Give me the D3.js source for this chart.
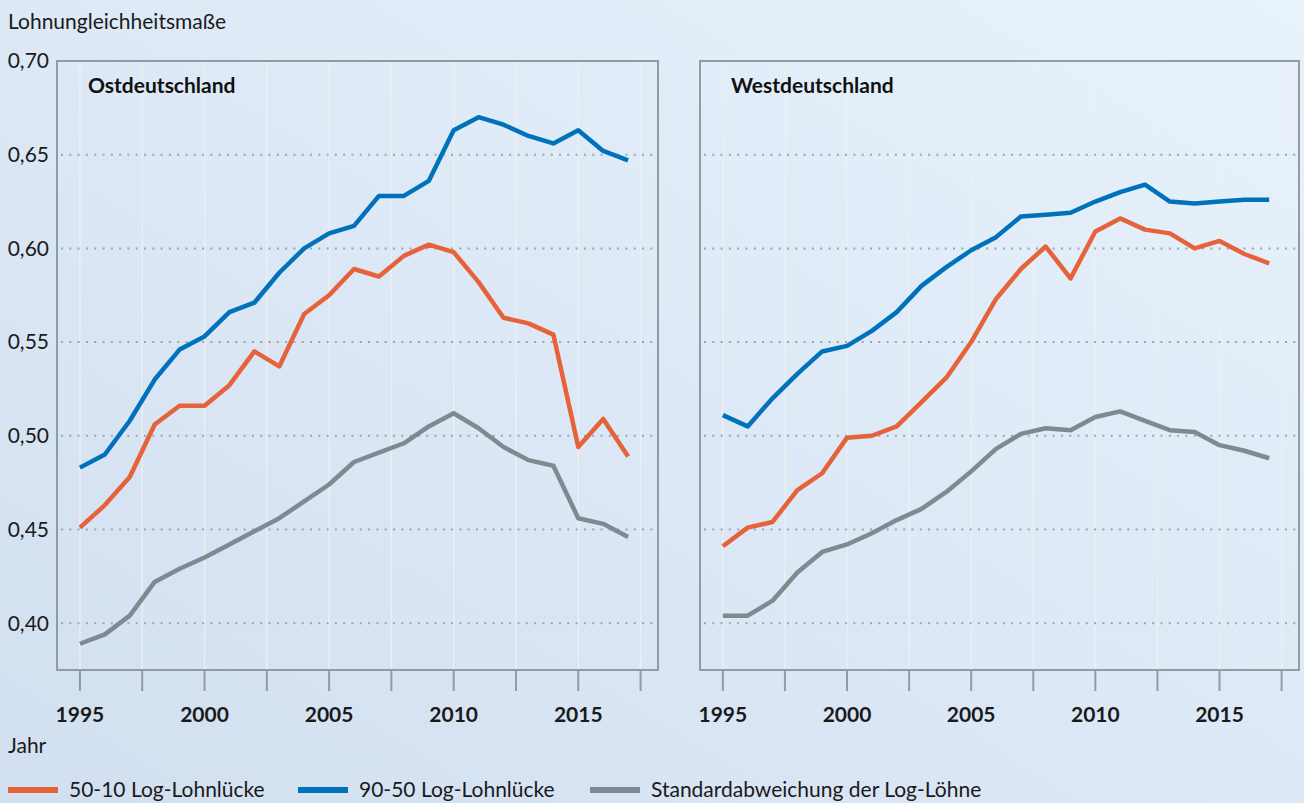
<!DOCTYPE html>
<html>
<head>
<meta charset="utf-8">
<script src="https://cdn.jsdelivr.net/npm/d3@7"></script>
<style>
  html, body { margin: 0; padding: 0; }
  body { width: 1304px; height: 803px; overflow: hidden; }
  svg { display: block; font-family: Lato, "Open Sans", sans-serif; }
</style>
</head>
<body>
<div id="chart"></div>
<script>
// --- Data ---
const years = d3.range(1995, 2018);

const ostGap5010 = [0.451, 0.463, 0.478, 0.506, 0.516, 0.516, 0.527, 0.545, 0.537, 0.565, 0.575, 0.589, 0.585, 0.596, 0.602, 0.598, 0.582, 0.563, 0.560, 0.554, 0.494, 0.509, 0.489];
const ostGap9050 = [0.483, 0.490, 0.508, 0.530, 0.546, 0.553, 0.566, 0.571, 0.587, 0.600, 0.608, 0.612, 0.628, 0.628, 0.636, 0.663, 0.670, 0.666, 0.660, 0.656, 0.663, 0.652, 0.647];
const ostStdDev  = [0.389, 0.394, 0.404, 0.422, 0.429, 0.435, 0.442, 0.449, 0.456, 0.465, 0.474, 0.486, 0.491, 0.496, 0.505, 0.512, 0.504, 0.494, 0.487, 0.484, 0.456, 0.453, 0.446];

const westGap5010 = [0.441, 0.451, 0.454, 0.471, 0.480, 0.499, 0.500, 0.505, 0.518, 0.531, 0.550, 0.573, 0.589, 0.601, 0.584, 0.609, 0.616, 0.610, 0.608, 0.600, 0.604, 0.597, 0.592];
const westGap9050 = [0.511, 0.505, 0.520, 0.533, 0.545, 0.548, 0.556, 0.566, 0.580, 0.590, 0.599, 0.606, 0.617, 0.618, 0.619, 0.625, 0.630, 0.634, 0.625, 0.624, 0.625, 0.626, 0.626];
const westStdDev  = [0.404, 0.404, 0.412, 0.427, 0.438, 0.442, 0.448, 0.455, 0.461, 0.470, 0.481, 0.493, 0.501, 0.504, 0.503, 0.510, 0.513, 0.508, 0.503, 0.502, 0.495, 0.492, 0.488];

const yTicks = [0.40, 0.45, 0.50, 0.55, 0.60, 0.65, 0.70];
const xLabelYears = [1995, 2000, 2005, 2010, 2015];
const xGridYears = d3.range(1995, 2018.5, 2.5);

const seriesNames = ['50-10 Log-Lohnlücke', '90-50 Log-Lohnlücke', 'Standardabweichung der Log-Löhne'];
const seriesColors = ['#e5623b', '#0072bb', '#7d8a90'];

const panels = [
    { title: 'Ostdeutschland', left: 57, right: 658, series: [ostGap5010, ostGap9050, ostStdDev] },
    { title: 'Westdeutschland', left: 700, right: 1299, series: [westGap5010, westGap9050, westStdDev] },
];

// --- Layout ---
const width = 1304;
const height = 803;
const plotTop = 61;
const plotBottom = 670;
const axisColor = '#8f9ca4';
const textColor = '#1a1a1a';
const fontSize = 21;

const svg = d3.select('#chart').append('svg')
    .attr('width', width)
    .attr('height', height)
    .attr('viewBox', [0, 0, width, height]);

// Background gradient
const defs = svg.append('defs');
const grad = defs.append('linearGradient')
    .attr('id', 'bg')
    .attr('x1', '0%').attr('y1', '100%')
    .attr('x2', '100%').attr('y2', '0%');
grad.append('stop').attr('offset', '0%').attr('stop-color', '#d2dff0');
grad.append('stop').attr('offset', '100%').attr('stop-color', '#e7f2fb');

svg.append('rect')
    .attr('width', width)
    .attr('height', height)
    .attr('fill', 'url(#bg)');

const y = d3.scaleLinear()
    .domain([0.375, 0.70])
    .range([plotBottom, plotTop]);

const fmt = v => d3.format('.2f')(v).replace('.', ',');

// Y axis title
svg.append('text')
    .attr('x', 8)
    .attr('y', 29)
    .attr('font-size', fontSize)
    .attr('fill', textColor)
    .text('Lohnungleichheitsmaße');

// Y tick labels (left panel only)
svg.append('g')
    .selectAll('text')
    .data(yTicks)
    .join('text')
    .attr('x', 49)
    .attr('y', d => y(d))
    .attr('dy', '0.35em')
    .attr('text-anchor', 'end')
    .attr('font-size', fontSize)
    .attr('fill', textColor)
    .text(fmt);

panels.forEach(p => {
    // 1995 sits 23px in from the left border, one year is ~24.9px
    const x = d3.scaleLinear()
        .domain([1994.08, 2018.2])
        .range([p.left, p.right]);

    const g = svg.append('g');

    // Vertical gridlines
    g.append('g')
        .selectAll('line')
        .data(xGridYears)
        .join('line')
        .attr('x1', d => x(d)).attr('x2', d => x(d))
        .attr('y1', plotTop).attr('y2', plotBottom)
        .attr('stroke', '#eef0ee')
        .attr('stroke-opacity', 0.85)
        .attr('stroke-width', 1.5);

    // Horizontal dotted gridlines
    g.append('g')
        .selectAll('line')
        .data(yTicks.filter(t => t < 0.7))
        .join('line')
        .attr('x1', p.left + 4).attr('x2', p.right)
        .attr('y1', d => y(d)).attr('y2', d => y(d))
        .attr('stroke', '#9aa5ad')
        .attr('stroke-width', 2)
        .attr('stroke-dasharray', '2,6.3');

    // Panel frame
    g.append('rect')
        .attr('x', p.left)
        .attr('y', plotTop)
        .attr('width', p.right - p.left)
        .attr('height', plotBottom - plotTop)
        .attr('fill', 'none')
        .attr('stroke', axisColor)
        .attr('stroke-width', 2);

    // Tick marks below frame
    g.append('g')
        .selectAll('line')
        .data(xGridYears)
        .join('line')
        .attr('x1', d => x(d)).attr('x2', d => x(d))
        .attr('y1', plotBottom + 1).attr('y2', plotBottom + 21)
        .attr('stroke', axisColor)
        .attr('stroke-width', 2);

    // Year labels
    g.append('g')
        .selectAll('text')
        .data(xLabelYears)
        .join('text')
        .attr('x', d => x(d))
        .attr('y', 722)
        .attr('text-anchor', 'middle')
        .attr('font-size', fontSize)
        .attr('font-weight', 700)
        .attr('fill', textColor)
        .text(d => d);

    // Panel title
    g.append('text')
        .attr('x', p.left + 31)
        .attr('y', 93)
        .attr('font-size', fontSize)
        .attr('font-weight', 700)
        .attr('fill', '#111')
        .text(p.title);

    // Lines
    const line = d3.line()
        .x((d, i) => x(years[i]))
        .y(d => y(d));

    g.append('g')
        .selectAll('path')
        .data(p.series)
        .join('path')
        .attr('d', line)
        .attr('fill', 'none')
        .attr('stroke', (d, i) => seriesColors[i])
        .attr('stroke-width', 4.5)
        .attr('stroke-linejoin', 'round');
});

// X axis title
svg.append('text')
    .attr('x', 8)
    .attr('y', 753)
    .attr('font-size', fontSize)
    .attr('fill', textColor)
    .text('Jahr');

// Legend
const legendX = [8, 298, 590];
const legend = svg.append('g')
    .selectAll('g')
    .data(seriesNames)
    .join('g')
    .attr('transform', (d, i) => `translate(${legendX[i]},790)`);

legend.append('line')
    .attr('x1', 0).attr('x2', 50)
    .attr('stroke', (d, i) => seriesColors[i])
    .attr('stroke-width', 6);

legend.append('text')
    .attr('x', 61)
    .attr('dy', '0.35em')
    .attr('font-size', fontSize)
    .attr('fill', textColor)
    .text(d => d);
</script>
</body>
</html>
